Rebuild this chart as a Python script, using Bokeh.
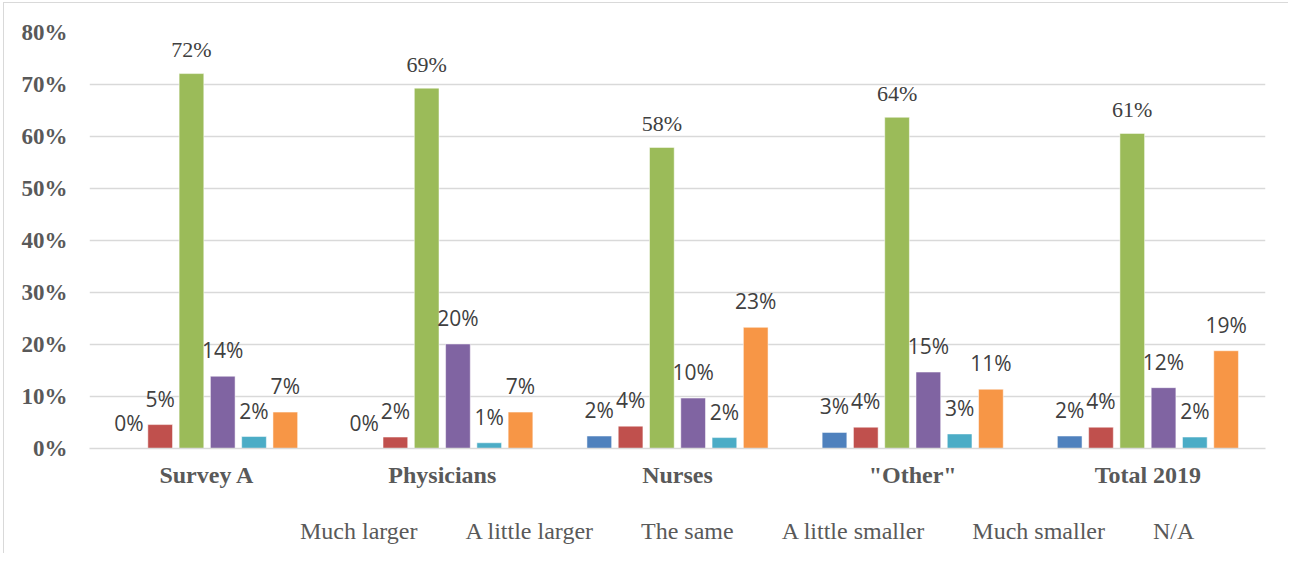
from bokeh.plotting import figure
from bokeh.layouts import column
from bokeh.models import (FactorRange, Range1d, PrintfTickFormatter, ColumnDataSource,
                          FixedTicker, Legend, LegendItem)
from bokeh.transform import dodge
from bokeh.core.properties import value
from bokeh.embed import file_html
from bokeh.resources import INLINE

# Survey groups and answer categories
groups = ["Survey A", "Physicians", "Nurses", "\"Other\"", "Total 2019"]
answers = ["Much larger", "A little larger", "The same", "A little smaller", "Much smaller", "N/A"]

# Share of respondents per answer (percent), one list per answer
much_larger = [0.0, 0.0, 2.4, 3.1, 2.4]
little_larger = [4.6, 2.2, 4.3, 4.1, 4.1]
the_same = [72.1, 69.3, 57.9, 63.7, 60.6]
little_smaller = [13.9, 20.1, 9.7, 14.7, 11.7]
much_smaller = [2.3, 1.1, 2.1, 2.8, 2.2]
not_applicable = [7.0, 7.0, 23.3, 11.4, 18.8]

series = [much_larger, little_larger, the_same, little_smaller, much_smaller, not_applicable]
colors = ["#4F81BD", "#C0504D", "#9BBB59", "#8064A2", "#4BACC6", "#F79646"]

p = figure(
    x_range=FactorRange(*groups, range_padding=0),
    y_range=Range1d(0, 80),
    frame_width=1176, frame_height=416,
    output_backend="svg", toolbar_location=None,
    min_border_left=85, min_border_right=23, min_border_top=29, min_border_bottom=45,
    background_fill_color="white", border_fill_color="white",
)
p.outline_line_color = None

step = 0.133
bar_w = 0.105
for i, (name, vals, col) in enumerate(zip(answers, series, colors)):
    off = (i - 2.5) * step
    src = ColumnDataSource(dict(
        g=groups, v=vals,
        t=["%d%%" % int(round(v)) for v in vals],
    ))
    p.vbar(x=dodge("g", off, range=p.x_range), top="v", width=bar_w, source=src,
           fill_color=col, line_color="white", line_alpha=0.5, line_width=1)
    if name == "The same":
        font, size, yoff = "Liberation Serif", "22px", -24
    else:
        font, size, yoff = "Open Sans", "21px", -26
    p.text(x=dodge("g", off, range=p.x_range), y="v", text="t", source=src,
           text_font=value(font), text_font_size=size, text_color="#404040",
           text_align="center", text_baseline="alphabetic", y_offset=yoff)

# grid and axes
p.xgrid.grid_line_color = None
p.ygrid.grid_line_color = "#d9d9d9"
p.ygrid.grid_line_width = 1.5
p.yaxis.ticker = FixedTicker(ticks=list(range(0, 81, 10)))
p.yaxis.formatter = PrintfTickFormatter(format="%d%%")
p.yaxis.axis_line_color = None
p.yaxis.major_tick_line_color = None
p.yaxis.major_tick_out = 0
p.yaxis.major_tick_in = 0
p.yaxis.minor_tick_line_color = None
p.yaxis.major_label_standoff = 22
p.yaxis.major_label_text_font = "Liberation Serif"
p.yaxis.major_label_text_font_style = "bold"
p.yaxis.major_label_text_font_size = "23px"
p.yaxis.major_label_text_color = "#595959"

p.xaxis.axis_line_color = "#d9d9d9"
p.xaxis.axis_line_width = 1.5
p.xaxis.major_tick_line_color = None
p.xaxis.major_tick_out = 0
p.xaxis.major_tick_in = 0
p.xaxis.minor_tick_line_color = None
p.xaxis.major_label_standoff = 13
p.xaxis.major_label_text_font = "Liberation Serif"
p.xaxis.major_label_text_font_style = "bold"
p.xaxis.major_label_text_font_size = "24px"
p.xaxis.major_label_text_color = "#595959"

# legend strip under the chart
leg = figure(
    width=1284, height=60, x_range=Range1d(0, 1), y_range=Range1d(0, 1),
    x_axis_type=None, y_axis_type=None,
    output_backend="svg", toolbar_location=None,
    min_border=0, min_border_left=0, min_border_right=0, min_border_top=0, min_border_bottom=0,
    background_fill_color="white", border_fill_color="white",
)
leg.outline_line_color = None
leg.xgrid.grid_line_color = None
leg.ygrid.grid_line_color = None
items = []
for name, col in zip(answers, colors):
    r = leg.vbar(x=[], top=[], width=0.1, fill_color=col, line_color=None)
    items.append(LegendItem(label=name, renderers=[r]))
lg = Legend(items=items, orientation="horizontal", location=(194, 8),
            border_line_color=None, background_fill_alpha=0,
            padding=0, margin=0, spacing=31,
            glyph_width=12, glyph_height=12, label_standoff=5,
            label_text_font="Liberation Serif", label_text_font_size="24px",
            label_text_color="#595959")
leg.add_layout(lg, "center")

layout = column(p, leg, spacing=0,
                styles={"border-left": "1.5px solid #d9d9d9", "border-top": "1.5px solid #d9d9d9",
                        "margin-left": "3px", "margin-top": "2px"})

open("out.html", "w").write(file_html(layout, INLINE))
